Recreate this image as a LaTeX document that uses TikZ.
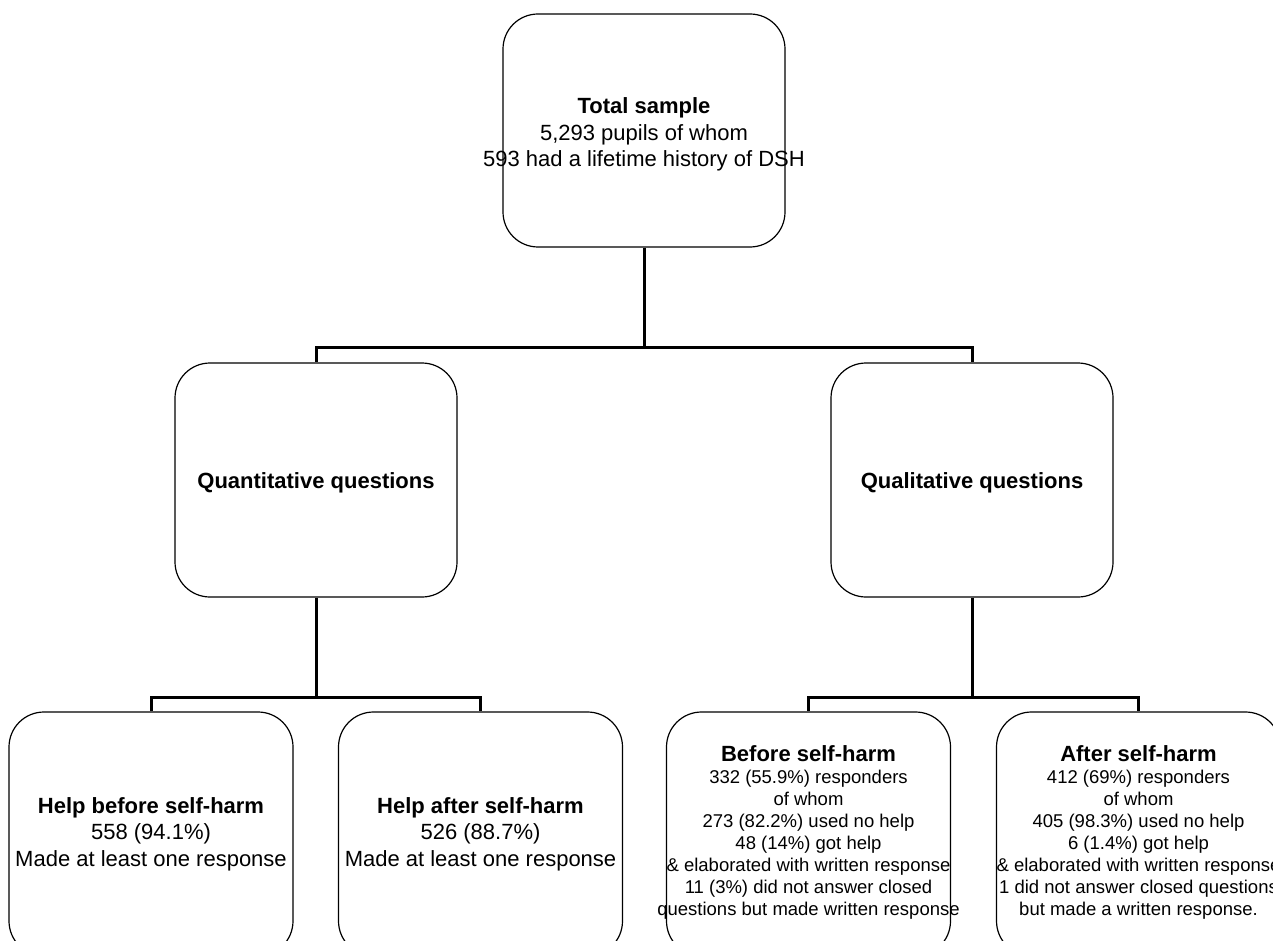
\documentclass[tikz,border=0pt]{standalone}
\usepackage{fontspec}
\setmainfont{Liberation Sans}
\usetikzlibrary{positioning}

\begin{document}
\begin{tikzpicture}[
    x=1pt, y=-1pt,
    box/.style={draw, line width=1.2pt, rounded corners=35pt, minimum width=282pt, minimum height=233pt, inner sep=0pt},
    lowbox/.style={box, minimum width=284pt, minimum height=244pt},
    txt/.style={align=center, inner sep=0pt, font=\fontsize{22}{26.5}\selectfont},
    small/.style={align=center, inner sep=0pt, font=\fontsize{18.5}{22}\selectfont},
    link/.style={line width=3pt}
]
\useasboundingbox (0,0) rectangle (1273,941);
\clip (0,0) rectangle (1273,941);

% Top level
\node[box] (top) at (644,130.5) {};
\node[txt, yshift=-4pt] (top-t) at (top) {\textbf{Total sample}\\5,293 pupils of whom\\593 had a lifetime history of DSH};

% Second level
\node[box, minimum height=234pt] (quant) at (316,480) {};
\node[txt, yshift=-3pt] (quant-t) at (quant) {\textbf{Quantitative questions}};
\node[box, minimum height=234pt] (qual) at (972,480) {};
\node[txt, yshift=-3pt] (qual-t) at (qual) {\textbf{Qualitative questions}};

% Third level
\node[lowbox] (hbefore) at (151,834) {};
\node[txt] (hbefore-t) at (hbefore) {\textbf{Help before self-harm}\\558 (94.1\%)\\Made at least one response};
\node[lowbox] (hafter) at (480.5,834) {};
\node[txt] (hafter-t) at (hafter) {\textbf{Help after self-harm}\\526 (88.7\%)\\Made at least one response};
\node[lowbox] (before) at (808.5,834) {};
\node[small, yshift=2pt] (before-t) at (before) {{\fontsize{22}{23}\selectfont\textbf{Before self-harm}}\\332 (55.9\%) responders\\of whom\\273 (82.2\%) used no help\\48 (14\%) got help\\\& elaborated with written response\\11 (3\%) did not answer closed\\questions but made written response};
\node[lowbox] (after) at (1138.5,834) {};
\node[small, yshift=2pt] (after-t) at (after) {{\fontsize{22}{23}\selectfont\textbf{After self-harm}}\\412 (69\%) responders\\of whom\\405 (98.3\%) used no help\\6 (1.4\%) got help\\\& elaborated with written response\\1 did not answer closed questions\\but made a written response.};

% Connectors
\draw[link] (top.south) -- ++(0,100) coordinate (j1);
\draw[link] (j1) -| (quant.north);
\draw[link] (j1) -| (qual.north);

\draw[link] (quant.south) -- ++(0,100) coordinate (j2);
\draw[link] (j2) -| (hbefore.north);
\draw[link] (j2) -| (hafter.north);

\draw[link] (qual.south) -- ++(0,100) coordinate (j3);
\draw[link] (j3) -| (before.north);
\draw[link] (j3) -| (after.north);
\end{tikzpicture}
\end{document}
